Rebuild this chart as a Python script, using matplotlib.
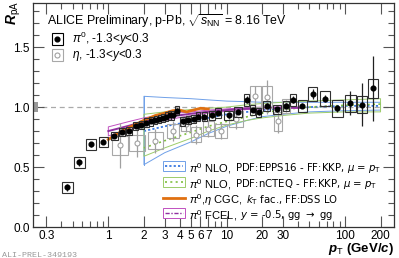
import numpy as np
import matplotlib.pyplot as plt
from matplotlib.patches import Rectangle

plt.rcParams['font.family'] = ['Liberation Sans', 'DejaVu Sans']
plt.rcParams['mathtext.fontset'] = 'custom'
plt.rcParams['mathtext.rm'] = 'Liberation Sans'
plt.rcParams['mathtext.it'] = 'Liberation Sans:italic'
plt.rcParams['mathtext.bf'] = 'Liberation Sans:bold:italic'

# pi0 data
pi0_pt = [0.45, 0.57, 0.71, 0.91, 1.12, 1.3, 1.5, 1.7, 1.9, 2.1, 2.3, 2.5, 2.7, 2.9,
          3.1, 3.3, 3.5, 3.8, 4.25, 4.75, 5.25, 5.75, 6.5, 7.5, 8.5, 10.4, 12.5, 14.8,
          16.6, 18.6, 21.8, 26.8, 31.8, 36.2, 43.6, 53.4, 67.9, 86.2, 111, 140, 174]
pi0_r = [0.33, 0.54, 0.69, 0.71, 0.76, 0.79, 0.80, 0.84, 0.85, 0.87, 0.88, 0.89, 0.90, 0.91,
         0.92, 0.93, 0.93, 0.97, 0.88, 0.89, 0.90, 0.92, 0.92, 0.93, 0.95, 0.93, 0.96, 1.06,
         0.975, 0.955, 1.01, 0.98, 1.01, 1.06, 1.01, 1.11, 1.07, 0.99, 1.03, 1.02, 1.155]
pi0_stat = [0.03, 0.03, 0.02, 0.02, 0.015, 0.015, 0.015, 0.015, 0.015, 0.015, 0.015, 0.015, 0.015, 0.015,
            0.015, 0.015, 0.015, 0.02, 0.02, 0.02, 0.02, 0.02, 0.02, 0.02, 0.02, 0.02, 0.02, 0.03,
            0.02, 0.02, 0.02, 0.02, 0.02, 0.03, 0.02, 0.04, 0.03, 0.03, 0.10, 0.18, 0.27]
pi0_sys = [0.045, 0.045, 0.045, 0.04, 0.035, 0.035, 0.035, 0.035, 0.035, 0.035, 0.035, 0.035, 0.035, 0.035,
           0.035, 0.035, 0.035, 0.04, 0.035, 0.035, 0.035, 0.035, 0.04, 0.04, 0.04, 0.04, 0.04, 0.05,
           0.04, 0.04, 0.04, 0.04, 0.04, 0.05, 0.05, 0.06, 0.06, 0.07, 0.07, 0.07, 0.08]

# eta data
eta_pt = [1.25, 1.75, 2.5, 3.5, 4.5, 5.5, 7.0, 9.0, 12.0, 17.5, 22.0, 27.0, 32.0]
eta_r = [0.68, 0.70, 0.72, 0.80, 0.86, 0.77, 0.82, 0.80, 0.90, 1.09, 1.085, 0.88, 1.01]
eta_stat = [0.19, 0.12, 0.10, 0.08, 0.07, 0.08, 0.07, 0.07, 0.08, 0.09, 0.14, 0.10, 0.05]
eta_sys = [0.08, 0.07, 0.07, 0.06, 0.06, 0.06, 0.06, 0.06, 0.07, 0.09, 0.09, 0.08, 0.06]

# NLO EPPS16
nlo_pt = [2, 3, 5, 7, 10, 15, 20, 30, 50, 100, 200]
epps_lo = [0.52, 0.62, 0.71, 0.78, 0.84, 0.89, 0.92, 0.94, 0.96, 0.97, 0.975]
epps_hi = [1.09, 1.08, 1.07, 1.06, 1.05, 1.045, 1.04, 1.04, 1.04, 1.04, 1.04]
epps_c = [0.80, 0.84, 0.88, 0.91, 0.94, 0.96, 0.975, 0.99, 1.0, 1.01, 1.01]
# NLO nCTEQ
ncteq_lo = [0.59, 0.66, 0.74, 0.80, 0.85, 0.89, 0.91, 0.93, 0.95, 0.96, 0.96]
ncteq_hi = [0.94, 0.96, 0.98, 0.99, 1.0, 1.02, 1.03, 1.04, 1.05, 1.06, 1.07]
ncteq_c = [0.66, 0.72, 0.79, 0.84, 0.88, 0.92, 0.95, 0.98, 1.0, 1.015, 1.025]
# CGC
cgc_pt = [1.0, 1.25, 1.5, 2.0, 2.5, 3.0, 3.5, 4.0, 4.6, 5.0, 6.0, 7.0]
cgc_r = [0.73, 0.79, 0.83, 0.89, 0.93, 0.95, 0.97, 0.975, 0.96, 0.97, 0.99, 0.985]
# FCEL
fcel_pt = [1, 1.5, 2, 3, 5, 7, 10, 15, 20, 30, 42]
fcel_hi = [0.835, 0.88, 0.91, 0.94, 0.96, 0.975, 0.985, 0.995, 1.0, 1.0, 1.0]
fcel_lo = [0.76, 0.81, 0.85, 0.89, 0.93, 0.95, 0.965, 0.98, 0.985, 0.99, 0.99]
fcel_c = [0.80, 0.845, 0.88, 0.915, 0.945, 0.962, 0.975, 0.987, 0.992, 0.995, 0.995]

xticks = [0.3, 1, 2, 3, 4, 5, 6, 7, 10, 20, 30, 100, 200]

blue = '#6fa0e8'
green = '#9ccc6a'
orange = '#e07010'
magenta = '#c050c0'

fig = plt.figure(figsize=(3.99, 2.58), dpi=100)
ax = fig.add_axes([0.0815, 0.12, 0.906, 0.868])
ax.set_xscale('log')
ax.set_xlim(0.2286, 260)
ax.set_ylim(0, 1.867)

ax.axhline(1.0, color='#aaaaaa', ls=(0, (4, 3)), lw=0.9, zorder=1)
ax.add_patch(Rectangle((0.2286, 0.96), 0.027, 0.08, color='#999999', lw=0, zorder=2))


def box_edges(pt, maxhalf):
    lp = np.log10(pt)
    half = []
    for i in range(len(lp)):
        gaps = []
        if i > 0:
            gaps.append((lp[i] - lp[i - 1]) / 2)
        if i < len(lp) - 1:
            gaps.append((lp[i + 1] - lp[i]) / 2)
        half.append(min(min(gaps) * 0.9, maxhalf))
    return half


# theory bands
ax.fill_between(nlo_pt, epps_lo, epps_hi, facecolor='none', edgecolor=blue, lw=0.7, zorder=3)
ax.plot([nlo_pt[0], nlo_pt[0]], [epps_lo[0], epps_hi[0]], color=blue, lw=0.7, zorder=3)
ax.plot(nlo_pt, epps_c, color='#3a78e0', ls=(0, (1.2, 1.2)), lw=1.3, zorder=3)
ax.fill_between(nlo_pt, ncteq_lo, ncteq_hi, facecolor='none', edgecolor=green, lw=0.7, zorder=3)
ax.plot(nlo_pt, ncteq_c, color='#80c040', ls=(0, (1.2, 2)), lw=1.2, zorder=3)
ax.fill_between(fcel_pt, fcel_lo, fcel_hi, facecolor='none', edgecolor=magenta, lw=0.7, zorder=3)
ax.plot(fcel_pt, fcel_c, color='#9030a0', lw=1.4, zorder=3)
ax.plot(cgc_pt, cgc_r, color=orange, lw=2.0, zorder=4)

# eta points
hw = box_edges(eta_pt, 0.09)
for p, r, s, y, h in zip(eta_pt, eta_r, eta_stat, eta_sys, hw):
    x0 = 10 ** (np.log10(p) - h)
    x1 = 10 ** (np.log10(p) + h)
    ax.add_patch(Rectangle((x0, r - y), x1 - x0, 2 * y, fill=False, ec='#a8a8a8', lw=0.8, zorder=5))
ax.errorbar(eta_pt, eta_r, yerr=eta_stat, fmt='o', ms=3.6, mfc='white', mec='#a0a0a0',
            mew=0.8, ecolor='#a0a0a0', elinewidth=0.9, capsize=0, zorder=6)

# pi0 points
hw = box_edges(pi0_pt, 0.045)
for p, r, s, y, h in zip(pi0_pt, pi0_r, pi0_stat, pi0_sys, hw):
    x0 = 10 ** (np.log10(p) - h)
    x1 = 10 ** (np.log10(p) + h)
    ax.add_patch(Rectangle((x0, r - y), x1 - x0, 2 * y, fill=False, ec='#303030', lw=0.8, zorder=7))
ax.errorbar(pi0_pt, pi0_r, yerr=pi0_stat, fmt='o', ms=3.4, color='black', ecolor='#202020',
            elinewidth=0.9, capsize=0, zorder=8)

# ticks
ax.set_xticks(xticks)
ax.set_xticklabels([str(t) for t in xticks])
ax.set_yticks([0, 0.5, 1.0, 1.5])
ax.set_yticklabels(['0.0', '0.5', '1.0', '1.5'])
ax.set_yticks(np.arange(0, 1.87, 0.1), minor=True)
ax.tick_params(which='both', direction='in', top=True, right=True, labelsize=8.5,
               color='#555555', pad=2)
ax.tick_params(which='major', length=8, width=0.8)
ax.tick_params(which='minor', length=4, width=0.8)
for s in ax.spines.values():
    s.set_linewidth(0.9)
    s.set_color('#333333')

fig.text(0.012, 0.995, r'$\mathbf{R}_{\mathrm{pA}}$', fontsize=10, rotation=90, ha='left', va='top')
ax.text(1.0, -0.062, r'$\mathbf{p}_{\mathrm{T}}$ (GeV/$\mathbf{c}$)', transform=ax.transAxes,
        ha='right', va='top', fontsize=9.5, fontweight='bold')
fig.text(0.005, 0.005, 'ALI-PREL-349193', fontsize=6, family='Liberation Mono', color='#999999')

# top-left legend
ax.text(0.04, 0.92, r'ALICE Preliminary, p-Pb, $\sqrt{s_{\mathrm{NN}}}$ = 8.16 TeV',
        transform=ax.transAxes, fontsize=8.9, va='center')
ax.plot([0.069], [0.841], transform=ax.transAxes, marker='o', ms=3.4, color='black', zorder=10)
ax.add_patch(Rectangle((0.053, 0.814), 0.032, 0.054, transform=ax.transAxes, fill=False,
                       ec='black', lw=0.8))
ax.text(0.109, 0.842, r'$\pi^0$, -1.3<$\mathit{y}$<0.3', transform=ax.transAxes, fontsize=8.5, va='center')
ax.plot([0.069], [0.769], transform=ax.transAxes, marker='o', ms=3.6, mfc='white', mec='#a0a0a0',
        mew=0.8, zorder=10)
ax.add_patch(Rectangle((0.053, 0.742), 0.032, 0.054, transform=ax.transAxes, fill=False,
                       ec='#a8a8a8', lw=0.8))
ax.text(0.109, 0.766, r'$\eta$, -1.3<$\mathit{y}$<0.3', transform=ax.transAxes, fontsize=8.5, va='center')

# bottom-right legend
lx0, lx1 = 0.361, 0.421
rows = [0.272, 0.20, 0.129, 0.0625]
ax.add_patch(Rectangle((lx0, rows[0] - 0.022), lx1 - lx0, 0.044, transform=ax.transAxes,
                       fc='white', ec=blue, lw=0.7, zorder=10))
ax.plot([lx0 + 0.006, lx1 - 0.006], [rows[0]] * 2, transform=ax.transAxes, color='#3a78e0',
        ls=(0, (1.2, 1.2)), lw=1.3, zorder=11)
ax.add_patch(Rectangle((lx0, rows[1] - 0.022), lx1 - lx0, 0.044, transform=ax.transAxes,
                       fc='white', ec=green, lw=0.7, zorder=10))
ax.plot([lx0 + 0.006, lx1 - 0.006], [rows[1]] * 2, transform=ax.transAxes, color='#80c040',
        ls=(0, (1.2, 2)), lw=1.2, zorder=11)
ax.plot([lx0, lx1], [rows[2]] * 2, transform=ax.transAxes, color=orange, lw=2.0, zorder=11)
ax.add_patch(Rectangle((lx0, rows[3] - 0.022), lx1 - lx0, 0.044, transform=ax.transAxes,
                       fc='white', ec=magenta, lw=0.7, zorder=10))
ax.plot([lx0 + 0.006, lx1 - 0.006], [rows[3]] * 2, transform=ax.transAxes, color='#9030a0',
        ls=(0, (3, 1.2, 1, 1.2)), lw=1.0, zorder=11)

big = [r'$\pi^0$ NLO,', r'$\pi^0$ NLO,', r'$\pi^0$,$\eta$ CGC,', r'$\pi^0$ FCEL,']
small = [r'PDF:EPPS16 - FF:KKP, $\mu$ = $\mathit{p}_{\mathrm{T}}$',
         r'PDF:nCTEQ - FF:KKP, $\mu$ = $\mathit{p}_{\mathrm{T}}$',
         r'$\mathit{k}_{\mathrm{T}}$ fac., FF:DSS LO',
         r'$\mathit{y}$ = -0.5, gg $\rightarrow$ gg']
for row, b, s in zip(rows, big, small):
    t = ax.text(0.432, row - 0.028, b, transform=ax.transAxes, fontsize=8.0, va='baseline', zorder=12)
    ax.annotate(s, xy=(1, 0), xycoords=t, xytext=(2.5, 0.8), textcoords='offset points',
                fontsize=7.3, family='DejaVu Sans', math_fontfamily='dejavusans',
                va='bottom', ha='left', zorder=12)

fig.savefig('out.png', dpi=100)
